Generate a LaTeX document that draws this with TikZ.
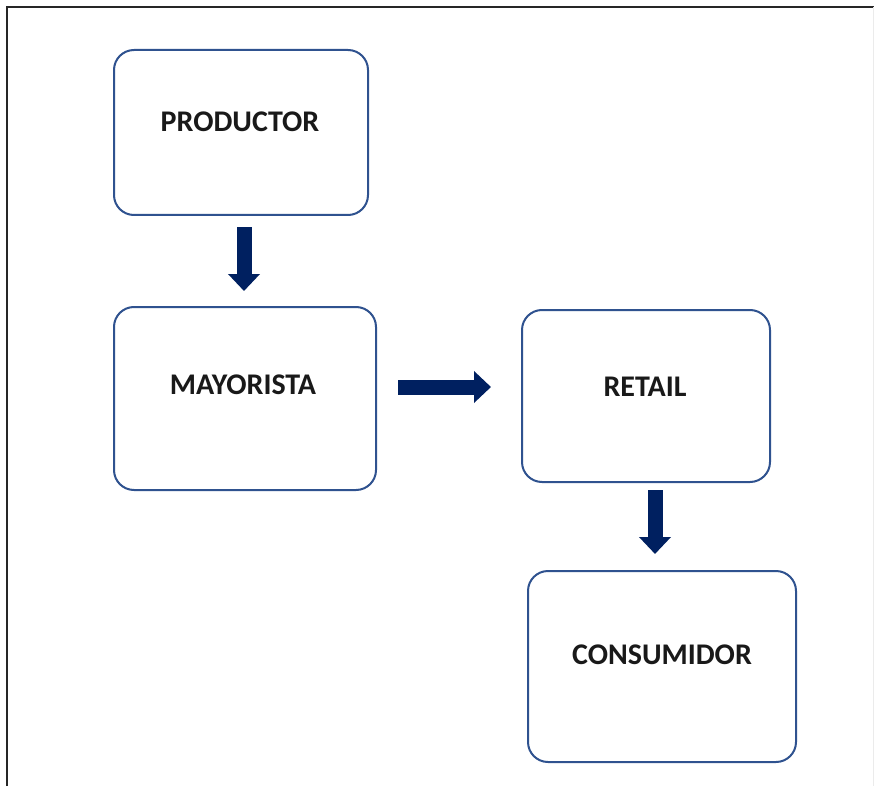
\documentclass[tikz,border=0pt]{standalone}
\usepackage{fontspec}
\setmainfont{Carlito}
\usetikzlibrary{arrows.meta}
\definecolor{borde}{HTML}{2F528F}
\definecolor{marino}{HTML}{002060}
\tikzset{
  caja/.style={draw=borde, line width=2pt, rounded corners=20pt, fill=white},
  etiqueta/.style={font=\fontsize{30}{36}\selectfont\bfseries, text=black!90, inner sep=0pt},
  flecha/.style={draw=marino, line width=15pt, -{Triangle[width=31pt,length=17pt]}}
}
\begin{document}
\begin{tikzpicture}[x=1pt,y=-1pt]
        \useasboundingbox (0,0) rectangle (874,786);
        \draw [black!85, line width=2pt] (7,786) -- (7,7) -- (874,7);
        \draw [black!8, line width=1pt] (873,7) -- (873,786);
        % cajas
        \node [caja, minimum width=254pt, minimum height=165pt] (prod) at (241,132.5) {};
        \node [caja, minimum width=262pt, minimum height=183pt] (may) at (245,398.5) {};
        \node [caja, minimum width=248pt, minimum height=172pt] (ret) at (646,396) {};
        \node [caja, minimum width=268pt, minimum height=191pt] (cons) at (662,666.5) {};
        \node [etiqueta] (prodtxt) at (240,122) {PRODUCTOR};
        \node [etiqueta] (maytxt) at (243,385) {MAYORISTA};
        \node [etiqueta] (rettxt) at (645,387) {RETAIL};
        \node [etiqueta] (constxt) at (662,655) {CONSUMIDOR};
        % flechas
        \draw [flecha] ([xshift=3pt,yshift=-11pt]prod.south) -- ([xshift=-1pt,yshift=15pt]may.north);
        \draw [flecha] ([xshift=21pt,yshift=11.5pt]may.east) -- ([xshift=-30pt,yshift=9pt]ret.west);
        \draw [flecha] ([xshift=9pt,yshift=-7pt]ret.south) -- ([xshift=-7pt,yshift=16pt]cons.north);
      \end{tikzpicture}
\end{document}
